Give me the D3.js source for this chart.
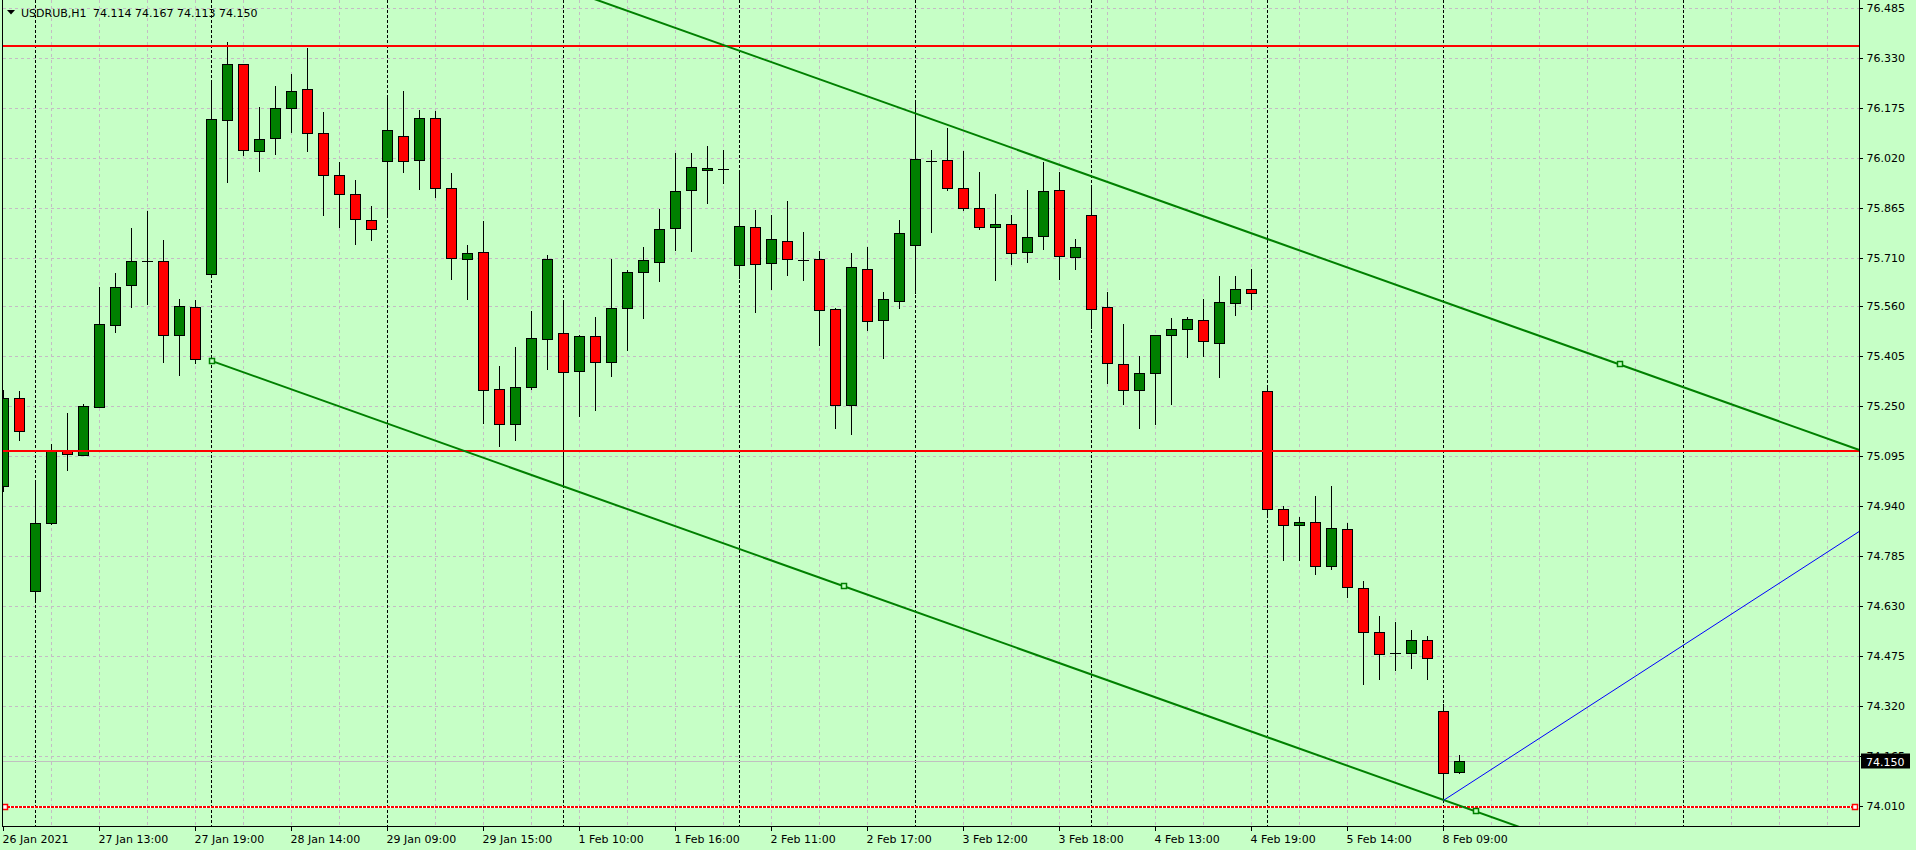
<!DOCTYPE html>
<html><head><meta charset="utf-8">
<script src="https://cdn.jsdelivr.net/npm/d3@7"></script>
<style>
html,body{margin:0;padding:0;background:#c6ffc6;overflow:hidden}
svg{display:block}
</style></head><body>
<svg id="c" width="1916" height="850"></svg>
<script>
// ---------- data ----------
const symbolName = "USDRUB,H1";
const lastQuote = ["74.114", "74.167", "74.113", "74.150"];

const opens = [75.003,75.275,74.676,74.889,75.113,75.100,75.249,75.503,75.626,75.700,
75.700,75.470,75.557,75.659,76.137,76.311,76.041,76.082,76.175,76.234,
76.097,75.967,75.908,75.827,76.010,76.088,76.013,76.144,75.927,75.706,
75.728,75.303,75.194,75.308,75.457,75.477,75.359,75.467,75.387,75.554,
75.666,75.697,75.802,75.920,75.984,75.986,75.688,75.806,75.694,75.762,
75.704,75.706,75.551,75.253,75.675,75.517,75.576,75.750,76.011,76.013,
75.927,75.864,75.806,75.815,75.728,75.778,75.920,75.712,75.843,75.557,
75.380,75.300,75.353,75.470,75.489,75.517,75.446,75.571,75.612,75.297,
74.931,74.881,74.890,74.754,74.869,74.685,74.549,74.484,74.484,74.524,
74.304,74.114];
const highs = [75.301,75.296,75.015,75.132,75.230,75.256,75.620,75.664,75.804,75.856,
75.766,75.583,75.580,76.263,76.378,76.311,76.178,76.244,76.281,76.361,
76.163,76.008,75.952,75.872,76.213,76.228,76.169,76.166,75.974,75.751,
75.825,75.375,75.434,75.546,75.719,75.573,75.470,75.527,75.708,75.673,
75.744,75.863,76.036,76.036,76.058,76.045,75.983,75.859,75.844,75.887,
75.790,75.731,75.554,75.725,75.744,75.605,75.828,76.193,76.045,76.114,
76.042,75.977,75.909,75.844,75.921,76.008,75.977,75.769,75.927,75.605,
75.506,75.406,75.470,75.524,75.526,75.583,75.654,75.654,75.677,75.313,
74.941,74.907,74.972,75.003,74.887,74.708,74.600,74.581,74.556,74.537,
74.327,74.167];
const lows = [74.986,75.144,74.650,74.886,75.052,75.100,75.249,75.479,75.557,75.568,
75.388,75.348,75.383,75.651,75.944,76.028,75.981,76.031,76.099,76.043,
75.842,75.807,75.752,75.767,75.838,75.975,75.925,75.900,75.643,75.581,
75.199,75.127,75.146,75.303,75.364,75.000,75.221,75.237,75.345,75.425,
75.525,75.637,75.733,75.730,75.879,75.941,75.648,75.541,75.612,75.658,
75.640,75.441,75.183,75.164,75.485,75.398,75.556,75.601,75.789,75.919,
75.857,75.801,75.640,75.690,75.696,75.736,75.643,75.677,75.491,75.323,
75.258,75.181,75.196,75.258,75.404,75.407,75.342,75.533,75.552,74.908,
74.774,74.774,74.731,74.746,74.659,74.389,74.405,74.433,74.439,74.405,
74.029,74.113];
const closes = [75.275,75.173,74.887,75.111,75.101,75.250,75.504,75.619,75.700,75.700,
75.472,75.560,75.396,76.140,76.311,76.044,76.079,76.175,76.228,76.097,
75.967,75.908,75.830,75.799,76.106,76.010,76.144,75.927,75.709,75.725,
75.300,75.194,75.309,75.461,75.706,75.356,75.467,75.387,75.554,75.666,
75.703,75.799,75.917,75.992,75.989,75.986,75.809,75.691,75.768,75.706,
75.704,75.548,75.253,75.681,75.514,75.582,75.787,76.017,76.011,75.928,
75.864,75.806,75.815,75.724,75.774,75.917,75.716,75.743,75.551,75.384,
75.300,75.353,75.470,75.489,75.520,75.452,75.573,75.612,75.601,74.931,
74.881,74.890,74.754,74.872,74.689,74.549,74.481,74.484,74.524,74.468,
74.111,74.150];

const priceTicks = [76.485,76.330,76.175,76.020,75.865,75.710,75.560,75.405,75.250,
75.095,74.940,74.785,74.630,74.475,74.320,74.165,74.010];
const timeTickIdx = [0,6,12,18,24,30,36,42,48,54,60,66,72,78,84,90];
const timeTickLabels = ["26 Jan 2021","27 Jan 13:00","27 Jan 19:00","28 Jan 14:00",
"29 Jan 09:00","29 Jan 15:00","1 Feb 10:00","1 Feb 16:00","2 Feb 11:00","2 Feb 17:00",
"3 Feb 12:00","3 Feb 18:00","4 Feb 13:00","4 Feb 19:00","5 Feb 14:00","8 Feb 09:00"];
const daySeparatorIdx = [2,13,24,35,46,57,68,79,90,105];
const redLevels = [76.369, 75.112];
const selectedLevel = 74.010;
const bidPrice = 74.150;
const trendUpper = [[-40, 77.875], [101, 75.381]];
const trendLower = [[13, 75.392], [92, 73.995]];
const blueRay = [[90, 74.029], [110, 74.671]];

// ---------- layout ----------
const W = 1916, H = 850;
const L = 2, R = 1859, T = 0, B = 826;
const BG = "#c6ffc6";
const FONT = "DejaVu Sans, sans-serif";

const x = d3.scaleLinear().domain([0, 115]).range([3.5, 3.5 + 16 * 115]);
const y = d3.scaleLinear().domain([74.010, 76.485]).range([806.5, 8.5]);
const cy = v => Math.round(y(v) - 0.5) + 0.5;

const svg = d3.select("#c");
svg.append("rect").attr("width", W).attr("height", H).attr("fill", BG);

const defs = svg.append("defs");
defs.append("clipPath").attr("id", "plot")
  .append("rect").attr("x", L + 1).attr("y", T).attr("width", R - L - 1).attr("height", B - T);

const plot = svg.append("g").attr("clip-path", "url(#plot)");

// grid
const grid = plot.append("g").attr("shape-rendering", "crispEdges");
grid.selectAll("line.h").data(priceTicks).join("line")
  .attr("x1", L + 1).attr("x2", R).attr("y1", d => cy(d)).attr("y2", d => cy(d))
  .attr("stroke", "#c4bcc4").attr("stroke-dasharray", "3,3");
const vIdx = d3.range(3, 116, 3).filter(i => !daySeparatorIdx.includes(i) && x(i) < R);
grid.selectAll("line.v").data(vIdx).join("line")
  .attr("x1", d => x(d)).attr("x2", d => x(d)).attr("y1", T).attr("y2", B)
  .attr("stroke", "#c4bcc4").attr("stroke-dasharray", "3,3");
grid.selectAll("line.s").data(daySeparatorIdx).join("line")
  .attr("x1", d => x(d)).attr("x2", d => x(d)).attr("y1", T).attr("y2", B)
  .attr("stroke", "#000").attr("stroke-dasharray", "3,2");

// bid line
plot.append("line").attr("x1", L + 1).attr("x2", R).attr("y1", cy(bidPrice)).attr("y2", cy(bidPrice))
  .attr("stroke", "#c0c0c0").attr("shape-rendering", "crispEdges");

// candles
const idx = d3.range(opens.length);
const cg = plot.append("g").attr("shape-rendering", "crispEdges");
cg.selectAll("line.w").data(idx).join("line")
  .attr("x1", i => x(i)).attr("x2", i => x(i))
  .attr("y1", i => cy(highs[i]) - 0.5).attr("y2", i => cy(lows[i]) + 0.5)
  .attr("stroke", "#000");
idx.forEach(i => {
  const top = cy(Math.max(opens[i], closes[i]));
  const bot = cy(Math.min(opens[i], closes[i]));
  if (bot - top < 1) {
    cg.append("line").attr("x1", x(i) - 5.5).attr("x2", x(i) + 5.5)
      .attr("y1", top).attr("y2", top).attr("stroke", "#000");
  } else {
    cg.append("rect").attr("x", x(i) - 5).attr("y", top).attr("width", 10).attr("height", bot - top)
      .attr("fill", closes[i] >= opens[i] ? "#008000" : "#ff0000").attr("stroke", "#000");
  }
});

// objects
const og = plot.append("g");
og.selectAll("line.red").data(redLevels).join("line")
  .attr("x1", L + 1).attr("x2", R).attr("y1", d => Math.round(y(d))).attr("y2", d => Math.round(y(d)))
  .attr("stroke", "#ff0000").attr("stroke-width", 2).attr("shape-rendering", "crispEdges");
og.append("line").attr("x1", L + 1).attr("x2", R).attr("y1", Math.round(y(selectedLevel))).attr("y2", Math.round(y(selectedLevel)))
  .attr("stroke", "#ffffff").attr("stroke-width", 2).attr("shape-rendering", "crispEdges");
og.append("line").attr("x1", L + 1).attr("x2", R).attr("y1", Math.round(y(selectedLevel))).attr("y2", Math.round(y(selectedLevel)))
  .attr("stroke", "#ff0000").attr("stroke-width", 2).attr("stroke-dasharray", "3,1").attr("shape-rendering", "crispEdges");

function ray(a, b) {
  const far = 220;
  const t = (far - a[0]) / (b[0] - a[0]);
  return [a, [far, a[1] + (b[1] - a[1]) * t]];
}
const lineGen = d3.line().x(d => x(d[0])).y(d => y(d[1]));
og.append("path").attr("d", lineGen(ray(...trendUpper))).attr("fill", "none")
  .attr("stroke", "#008000").attr("stroke-width", 2);
og.append("path").attr("d", lineGen(ray(...trendLower))).attr("fill", "none")
  .attr("stroke", "#008000").attr("stroke-width", 2);
og.append("path").attr("d", lineGen(ray(...blueRay))).attr("fill", "none")
  .attr("stroke", "#0000ff").attr("stroke-width", 1);

// handles
const lowerMid = [(trendLower[0][0] + trendLower[1][0]) / 2, (trendLower[0][1] + trendLower[1][1]) / 2];
const greenHandles = [trendLower[0], lowerMid, trendLower[1], trendUpper[1]];
og.selectAll("rect.gh").data(greenHandles).join("rect")
  .attr("x", d => Math.round(x(d[0])) - 2.5).attr("y", d => Math.round(y(d[1])) - 2.5)
  .attr("width", 5).attr("height", 5).attr("fill", BG).attr("stroke", "#008000").attr("stroke-width", 1.5);
[5, 1855].forEach(px => {
  og.append("rect").attr("x", px - 2.5).attr("y", Math.round(y(selectedLevel)) - 2.5)
    .attr("width", 5).attr("height", 5).attr("fill", "#fff").attr("stroke", "#ff0000").attr("stroke-width", 1.5);
});

// borders
svg.append("g").attr("shape-rendering", "crispEdges").attr("stroke", "#000")
  .call(g => {
    g.append("line").attr("x1", L + 0.5).attr("x2", L + 0.5).attr("y1", T).attr("y2", B + 1);
    g.append("line").attr("x1", R + 0.5).attr("x2", R + 0.5).attr("y1", T).attr("y2", B + 1);
    g.append("line").attr("x1", L).attr("x2", R + 1).attr("y1", B + 0.5).attr("y2", B + 0.5);
  });

// axes
const yAxis = d3.axisRight(y).tickValues(priceTicks).tickSize(3).tickPadding(4)
  .tickFormat(d3.format(".3f")).offset(0);
const gy = svg.append("g").attr("transform", `translate(${R + 0.5},0)`).call(yAxis);
gy.select(".domain").remove();
gy.attr("font-family", FONT).attr("font-size", 11);
gy.selectAll(".tick line").attr("shape-rendering", "crispEdges").attr("stroke", "#000");
gy.selectAll(".tick").attr("transform", d => `translate(0,${cy(d)})`);
gy.selectAll(".tick text").attr("fill", "#000");

const xAxis = d3.axisBottom(x).tickValues(timeTickIdx).tickSize(4).tickPadding(4)
  .tickFormat((d, i) => timeTickLabels[i]).offset(0);
const gx = svg.append("g").attr("transform", `translate(0,${B + 1})`).call(xAxis);
gx.select(".domain").remove();
gx.attr("font-family", FONT).attr("font-size", 11);
gx.selectAll(".tick line").attr("shape-rendering", "crispEdges").attr("stroke", "#000");
gx.selectAll(".tick text").attr("text-anchor", "start").attr("x", -1).attr("fill", "#000");

// bid label
const by = cy(bidPrice);
svg.append("rect").attr("x", R + 2).attr("y", by - 8).attr("width", 49).attr("height", 15).attr("fill", "#000");
svg.append("text").attr("x", R + 7).attr("y", by + 4).attr("font-family", FONT).attr("font-size", 11)
  .attr("fill", "#fff").text(d3.format(".3f")(bidPrice));

// title
svg.append("path").attr("d", "M7,10 L15,10 L11,14.5 Z").attr("fill", "#000");
svg.append("text").attr("x", 21).attr("y", 17).attr("font-family", FONT).attr("font-size", 11)
  .attr("fill", "#000").text(symbolName);
svg.append("text").attr("x", 93).attr("y", 17).attr("font-family", FONT).attr("font-size", 11)
  .attr("fill", "#000").text(lastQuote.join(" "));
</script>
</body></html>
